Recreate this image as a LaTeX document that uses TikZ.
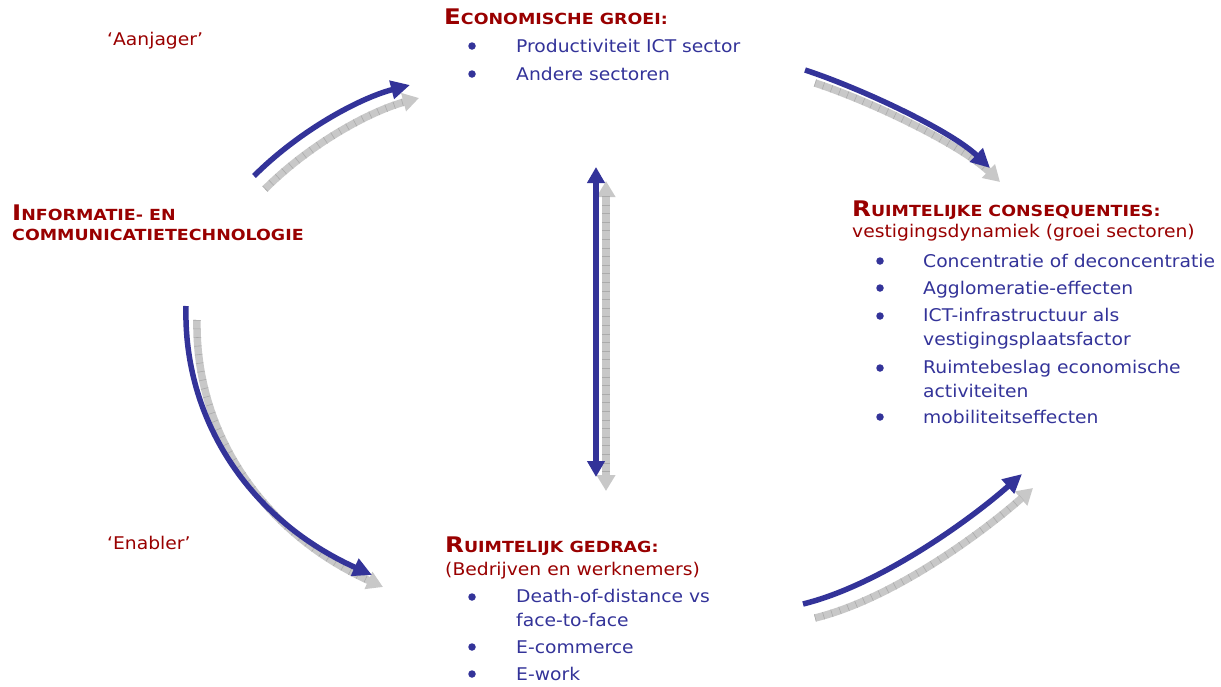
\documentclass[tikz,border=0pt]{standalone}
\usepackage{fontspec}
\setmainfont{DejaVu Sans}[FakeStretch=1.07]
\newfontfamily\headfont{DejaVu Sans}[FakeStretch=1.14]
\usetikzlibrary{arrows.meta}
\definecolor{navy}{HTML}{333399}
\definecolor{brick}{HTML}{990000}
\definecolor{shade}{HTML}{C8C8C8}
\definecolor{shadetick}{HTML}{ABABAB}
% heading with a large first letter and small-cap style remainder
\newcommand\capsc[2]{{\fontsize{21.5}{20}\selectfont #1}{\fontsize{15.3}{20}\selectfont #2}}
\begin{document}
\begin{tikzpicture}[x=1pt,y=-1pt,
  body/.style={anchor=base west, inner sep=0pt, text=navy, align=left,
    font=\fontsize{17.5}{23.5}\selectfont},
  sub/.style={body, text=brick},
  head/.style={anchor=base west, inner sep=0pt, text=brick, align=left,
    font=\headfont\bfseries\fontsize{15.3}{20}\selectfont},
  tag/.style={anchor=base west, inner sep=0pt, text=brick, font=\fontsize{17.5}{20}\selectfont},
  bul/.style={circle, fill=navy, inner sep=0pt, minimum size=7.5pt},
  bluearr/.style={draw=navy, line width=5.5pt, -{Triangle[length=19pt,width=18pt]}},
  bluedbl/.style={draw=navy, line width=5.5pt, {Triangle[length=16pt,width=17pt]}-{Triangle[length=16pt,width=17pt]}},
  grayarr/.style={draw=shade, line width=7.5pt, -{Triangle[length=16pt,width=18pt]},
    postaction={draw=shadetick, line width=7.5pt, dash pattern=on 0.6pt off 8pt, -, shorten >=15pt}},
  graydbl/.style={draw=shade, line width=7.5pt, {Triangle[length=16pt,width=18pt]}-{Triangle[length=16pt,width=18pt]},
    postaction={draw=shadetick, line width=7.5pt, dash pattern=on 0.6pt off 8pt, -, shorten >=15pt, shorten <=15pt}},
]
\useasboundingbox (0,0) rectangle (1221,686);
\fill[white] (0,0) rectangle (1221,686);

% ---- labels on the left
\node[tag] (aanjager) at (107,45) {‘Aanjager’};
\node[tag] (enabler) at (107,549) {‘Enabler’};

% ---- ICT (multi-line nodes are placed by the baseline of their last line)
\node[head] (ict) at (12,240) {\capsc{I}{NFORMATIE- EN}\\\capsc{}{COMMUNICATIETECHNOLOGIE}};

% ---- Economische groei
\node[head] (eco) at (444,24) {\capsc{E}{CONOMISCHE GROEI:}};
\node[bul] (ecob1) at (472,46) {};
\node[body] (eco1) at (516,52) {Productiviteit ICT sector};
\node[bul] (ecob2) at (472,74) {};
\node[body] (eco2) at (516,80) {Andere sectoren};

% ---- Ruimtelijke consequenties
\node[head] (rc) at (852,216) {\capsc{R}{UIMTELIJKE CONSEQUENTIES:}};
\node[sub] (rcsub) at (852,237) {vestigingsdynamiek (groei sectoren)};
\node[bul] (rcb1) at (880,261) {};
\node[body] (rc1) at (923,267) {Concentratie of deconcentratie};
\node[bul] (rcb2) at (880,288) {};
\node[body] (rc2) at (923,294) {Agglomeratie-effecten};
\node[bul] (rcb3) at (880,316) {};
\node[body] (rc3) at (923,345) {ICT-infrastructuur als\\vestigingsplaatsfactor};
\node[bul] (rcb4) at (880,368) {};
\node[body] (rc4) at (923,397) {Ruimtebeslag economische\\activiteiten};
\node[bul] (rcb5) at (880,417) {};
\node[body] (rc5) at (923,423) {mobiliteitseffecten};

% ---- Ruimtelijk gedrag
\node[head] (rg) at (445,552) {\capsc{R}{UIMTELIJK GEDRAG:}};
\node[sub] (rgsub) at (445,575) {(Bedrijven en werknemers)};
\node[bul] (rgb1) at (472,597) {};
\node[body] (rg1) at (516,626) {Death-of-distance vs\\face-to-face};
\node[bul] (rgb2) at (472,647) {};
\node[body] (rg2) at (516,653) {E-commerce};
\node[bul] (rgb3) at (472,674) {};
\node[body] (rg3) at (516,680) {E-work};

% ---- arrow end points
\coordinate (tlBs) at (254,176); \coordinate (tlBe) at (410,85);
\coordinate (tlGs) at (265,189); \coordinate (tlGe) at (419,98);
\coordinate (trBs) at (805,70);  \coordinate (trBe) at (990,168);
\coordinate (trGs) at (815,83);  \coordinate (trGe) at (1000,182);
\coordinate (lBs) at (186,306);  \coordinate (lBe) at (372,575);
\coordinate (lGs) at (197,320);  \coordinate (lGe) at (383,587);
\coordinate (brBs) at (803,604); \coordinate (brBe) at (1022,474);
\coordinate (brGs) at (815,618); \coordinate (brGe) at (1033,488);
\coordinate (vBt) at (596,167);  \coordinate (vBb) at (596,477);
\coordinate (vGt) at (606,181);  \coordinate (vGb) at (606,491);

% ---- shaded arrows (behind)
\draw[grayarr] (tlGs) .. controls (311,143) and (371,111) .. (tlGe);
\draw[grayarr] (trGs) .. controls (870,101) and (960,144) .. (trGe);
\draw[grayarr] (lGs) .. controls (195,432) and (262,532) .. (lGe);
\draw[grayarr] (brGs) .. controls (892,599) and (981,534) .. (brGe);
\draw[graydbl] (vGt) -- (vGb);

% ---- blue arrows
\draw[bluearr] (tlBs) .. controls (300,130) and (360,98) .. (tlBe);
\draw[bluearr] (trBs) .. controls (860,88) and (950,130) .. (trBe);
\draw[bluearr] (lBs) .. controls (183,420) and (250,520) .. (lBe);
\draw[bluearr] (brBs) .. controls (880,585) and (970,520) .. (brBe);
\draw[bluedbl] (vBt) -- (vBb);
\end{tikzpicture}
\end{document}
